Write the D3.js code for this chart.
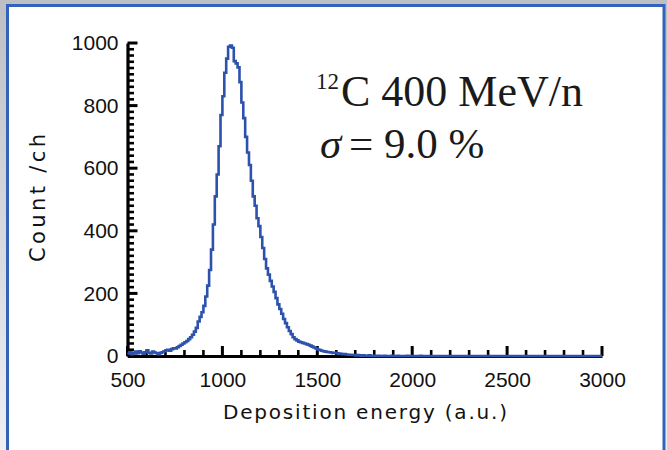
<!DOCTYPE html>
<html>
<head>
<meta charset="utf-8">
<script src="https://cdn.jsdelivr.net/npm/d3@7"></script>
<style>
  html, body { margin: 0; padding: 0; background: #fff; }
  svg { display: block; }
</style>
</head>
<body>
<svg id="chart" width="667" height="450"></svg>
<script>
// Energy-deposition spectrum, 10 a.u. bins starting at 500
const binStart = 500;
const binWidth = 10;
const counts = [
  8, 12, 6, 10, 14, 9, 15, 11, 7, 12,            // 500
  18, 10, 8, 14, 11, 9, 6, 10, 12, 15,           // 600
  18, 20, 17, 22, 25, 24, 28, 32, 36, 40,        // 700
  44, 48, 54, 60, 68, 78, 90, 110, 125, 140,     // 800
  160, 190, 225, 275, 340, 420, 510, 580, 670, 770, // 900
  830, 905, 950, 988, 992, 985, 942, 935, 922, 875, // 1000
  810, 760, 700, 650, 610, 560, 510, 480, 440, 415, // 1100
  380, 345, 310, 280, 260, 240, 222, 205, 185, 165, // 1200
  150, 135, 118, 105, 92, 80, 70, 60, 54, 50,    // 1300
  46, 44, 42, 40, 38, 36, 33, 30, 27, 24,        // 1400
  21, 19, 17, 15, 14, 13, 12, 11, 10, 10,        // 1500
  9, 8, 7, 6, 6, 5, 4, 4, 3, 3,                  // 1600
  2, 3, 2, 1, 2, 1, 1, 2, 1, 0,                  // 1700
  1, 0, 1, 0, 0, 1, 0, 0, 0, 1,                  // 1800
  0, 0, 1, 0, 0, 0, 0, 1, 0, 0,                  // 1900
  0, 0, 0, 0, 1, 0, 0, 0, 0, 0,                  // 2000
  0, 0, 0, 0, 0, 0, 0, 0, 0, 0,                  // 2100
  0, 0, 0, 0, 0, 0, 0, 0, 0, 0,                  // 2200
  0, 0, 0, 0, 0, 0, 0, 0, 0, 0,                  // 2300
  0, 0, 0, 0, 0, 0, 0, 0, 0, 0,                  // 2400
  0, 0, 0, 0, 0, 0, 0, 0, 0, 0,                  // 2500
  0, 0, 0, 0, 0, 0, 0, 0, 0, 0,                  // 2600
  0, 0, 0, 0, 0, 0, 0, 0, 0, 0,                  // 2700
  0, 0, 0, 0, 0, 0, 0, 0, 0, 0,                  // 2800
  0, 0, 0, 0, 0, 0, 0, 0, 0, 0                   // 2900
];

const xDomain = [500, 3000];
const yDomain = [0, 1000];
const xTicks = [500, 1000, 1500, 2000, 2500, 3000];
const yTicks = [0, 200, 400, 600, 800, 1000];
const xMinorStep = 100;
const yMinorStep = 20;

const xTitle = "Deposition energy (a.u.)";
const yTitle = "Count /ch";
const beamIsotope = "12";
const beamLabel = "C 400 MeV/n";
const sigmaSymbol = "σ";
const sigmaLabel = "= 9.0 %";

const svg = d3.select("#chart");
const W = 667, H = 450;

// backdrop and framed panel
const defs = svg.append("defs");
const grad = defs.append("linearGradient").attr("id", "bgGrad")
  .attr("x1", 0).attr("y1", 0).attr("x2", 0).attr("y2", 1);
grad.append("stop").attr("offset", "0%").attr("stop-color", "#bcc0c5");
grad.append("stop").attr("offset", "100%").attr("stop-color", "#eef0f2");
svg.append("rect").attr("width", W).attr("height", H).attr("fill", "url(#bgGrad)");
svg.append("rect")
  .attr("x", 7.5).attr("y", 5.5).attr("width", 656.5).attr("height", 460)
  .attr("fill", "#ffffff").attr("stroke", "#3462bb").attr("stroke-width", 3);

const x = d3.scaleLinear().domain(xDomain).range([127.5, 602]);
const y = d3.scaleLinear().domain(yDomain).range([356, 43]);

const tickFont = "'Liberation Sans', Arial, sans-serif";
const x0 = x.range()[0], y0 = y.range()[0];

// tick marks, drawn inward from the axes
const xMinor = d3.range(xDomain[0], xDomain[1] + 1, xMinorStep).filter(v => !xTicks.includes(v));
const yMinor = d3.range(yDomain[0], yDomain[1] + 1, yMinorStep).filter(v => !yTicks.includes(v));

const ticks = svg.append("g").attr("stroke", "#000");
ticks.selectAll(".xminor").data(xMinor).join("line").attr("class", "xminor")
  .attr("x1", d => x(d)).attr("x2", d => x(d))
  .attr("y1", y0).attr("y2", y0 - 6)
  .attr("stroke-width", 2.6);
ticks.selectAll(".xmajor").data(xTicks).join("line").attr("class", "xmajor")
  .attr("x1", d => x(d)).attr("x2", d => x(d))
  .attr("y1", y0).attr("y2", y0 - 10)
  .attr("stroke-width", 3);
ticks.selectAll(".yminor").data(yMinor).join("line").attr("class", "yminor")
  .attr("x1", x0).attr("x2", x0 + 6.5)
  .attr("y1", d => y(d)).attr("y2", d => y(d))
  .attr("stroke-width", 2.6);
ticks.selectAll(".ymajor").data(yTicks).join("line").attr("class", "ymajor")
  .attr("x1", x0).attr("x2", x0 + 10)
  .attr("y1", d => y(d)).attr("y2", d => y(d))
  .attr("stroke-width", 3);

// axis lines and labels
svg.append("g").attr("transform", `translate(0,${y0})`)
  .call(d3.axisBottom(x).tickValues(xTicks).tickSize(0).tickPadding(16).tickFormat(d3.format("d")))
  .call(g => g.select(".domain").attr("stroke", "#000").attr("stroke-width", 3.2))
  .call(g => g.selectAll("text").attr("fill", "#111").attr("font-family", tickFont).attr("font-size", 21));

svg.append("g").attr("transform", `translate(${x0},0)`)
  .call(d3.axisLeft(y).tickValues(yTicks).tickSize(0).tickPadding(9).tickFormat(d3.format("d")))
  .call(g => g.select(".domain").attr("stroke", "#000").attr("stroke-width", 3.2))
  .call(g => g.selectAll("text").attr("fill", "#111").attr("font-family", tickFont).attr("font-size", 21));

// histogram as a stepped outline
const pts = counts.map((c, i) => [binStart + i * binWidth, c]);
pts.push([binStart + counts.length * binWidth, counts[counts.length - 1]]);
const line = d3.line().x(d => x(d[0])).y(d => y(d[1])).curve(d3.curveStepAfter);
svg.append("path").datum(pts)
  .attr("d", line)
  .attr("fill", "none")
  .attr("stroke", "#2c52ad")
  .attr("stroke-width", 2.6)
  .attr("stroke-linejoin", "miter");

// axis titles
const titleFont = "'DejaVu Sans', Verdana, sans-serif";
svg.append("text")
  .attr("x", 365).attr("y", 419)
  .attr("text-anchor", "middle")
  .attr("font-family", titleFont).attr("font-size", 20)
  .attr("fill", "#111")
  .attr("textLength", 284).attr("lengthAdjust", "spacing")
  .text(xTitle);

svg.append("text")
  .attr("transform", "translate(45,198) rotate(-90)")
  .attr("text-anchor", "middle")
  .attr("font-family", titleFont).attr("font-size", 21)
  .attr("fill", "#111")
  .attr("textLength", 128).attr("lengthAdjust", "spacing")
  .text(yTitle);

// beam annotation
const serif = "'Liberation Serif', 'Times New Roman', serif";
const t1 = svg.append("text").attr("font-family", serif).attr("fill", "#1a1a1a");
t1.append("tspan").attr("x", 316).attr("y", 89).attr("font-size", 23).text(beamIsotope);
t1.append("tspan").attr("x", 341).attr("y", 106).attr("font-size", 44).text(beamLabel);

const t2 = svg.append("text").attr("font-family", serif).attr("fill", "#1a1a1a").attr("font-size", 43);
t2.append("tspan").attr("x", 320).attr("y", 158).attr("font-style", "italic").text(sigmaSymbol);
t2.append("tspan").attr("x", 349).attr("y", 158).text(sigmaLabel);
</script>
</body>
</html>
